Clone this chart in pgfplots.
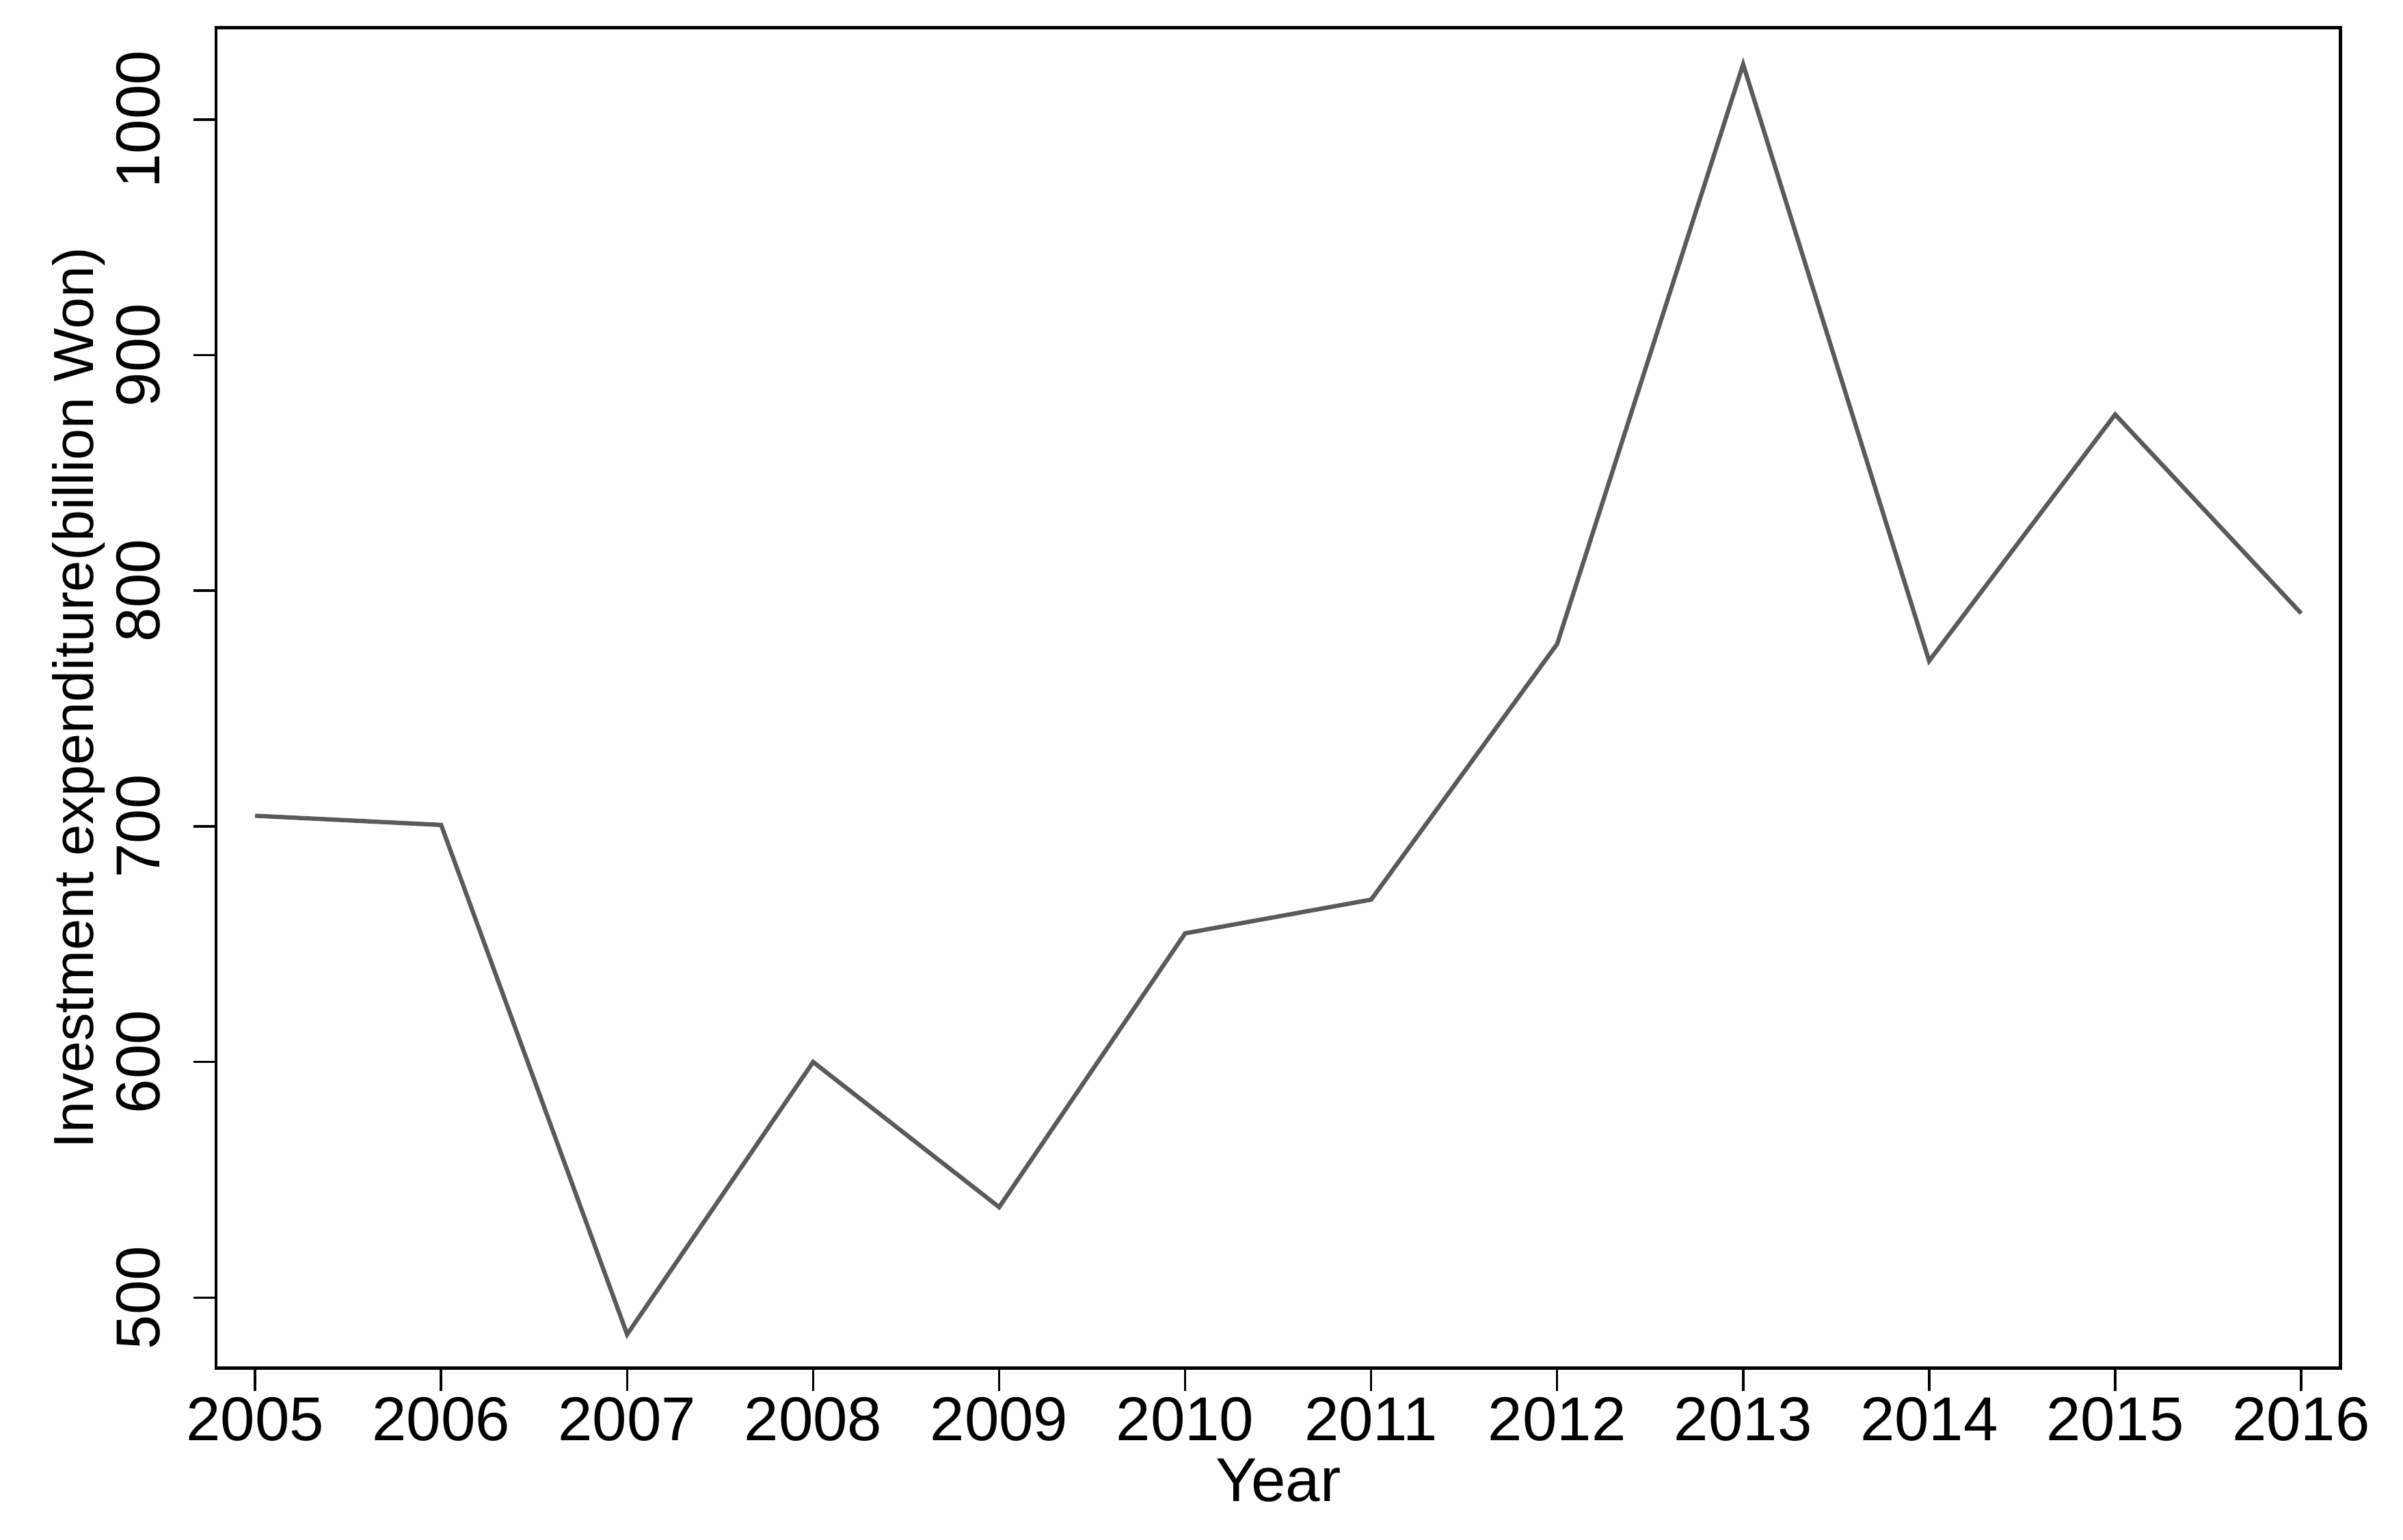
\documentclass[border=0pt]{standalone}
\usepackage{pgfplots}
\pgfplotsset{compat=1.18}
\usepackage{fontspec}
\setmainfont{Liberation Sans}
\definecolor{linegray}{HTML}{5A5A5A}
\begin{document}
\fontsize{11.5}{13}\selectfont
\begin{tikzpicture}
\begin{axis}[
  scale only axis,
  width=138.6mm, height=87.5mm,
  xmin=2004.79, xmax=2016.21,
  ymin=470, ymax=1039,
  xtick={2005,2006,...,2016},
  ytick={500,600,700,800,900,1000},
  /pgf/number format/1000 sep={},
  /pgf/number format/assume math mode=true,
  tick align=outside,
  major tick length=1.5mm,
  tick style={black, line width=0.45pt},
  axis line style={black, line width=0.6pt},
  xtick pos=bottom, ytick pos=left,
  tick label style={font=\fontsize{11.5}{13}\selectfont},
  xticklabel style={anchor=base},
  xticklabel shift=3.2mm,
  yticklabel style={rotate=90, anchor=base},
  yticklabel shift=2.2mm,
  xlabel={Year},
  ylabel={Investment expenditure(billion Won)},
  xlabel style={at={(axis description cs:0.5,-0.0994)}, anchor=base, font=\fontsize{11.5}{13}\selectfont},
  ylabel style={at={(axis description cs:-0.0577,0.5)}, anchor=base, font=\fontsize{10.5}{12}\selectfont},
  clip=false,
]
\addplot[linegray, line width=0.8pt] coordinates {
  (2005,704.5) (2006,700.6) (2007,484.4) (2008,600.0) (2009,538.4) (2010,654.6)
  (2011,668.9) (2012,777.4) (2013,1023.4) (2014,770.2) (2015,874.8) (2016,790.4)
};
\end{axis}
\path[use as bounding box] (current axis.south west) ++(-14.1mm,-11.2mm) rectangle ([xshift=4.1mm,yshift=1.8mm]current axis.north east);
\end{tikzpicture}
\end{document}
